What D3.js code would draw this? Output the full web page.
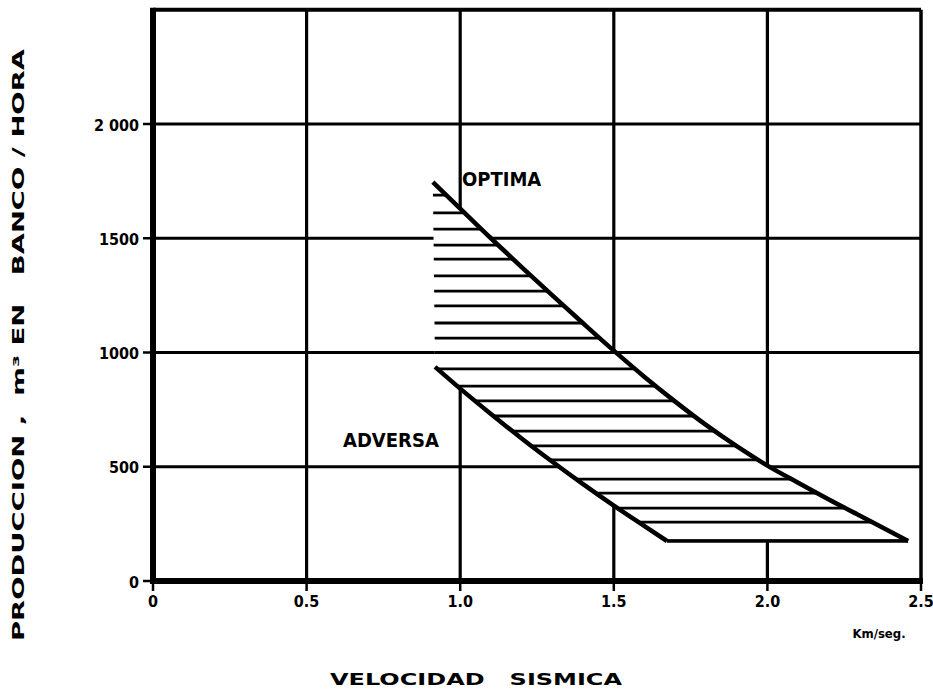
<!DOCTYPE html>
<html>
<head>
<meta charset="utf-8">
<script src="https://cdn.jsdelivr.net/npm/d3@7"></script>
<style>
  html, body { margin: 0; padding: 0; background: #fff; }
  svg { display: block; }
  .tick-label { font-family: "Liberation Sans Narrow", "DejaVu Sans Condensed", "Arial Narrow", sans-serif; font-weight: bold; font-stretch: condensed; }
  .title { font-family: "DejaVu Sans", "Verdana", sans-serif; font-weight: bold; white-space: pre; }
</style>
</head>
<body>
<svg id="chart" width="933" height="692"></svg>
<script>
// Axis ticks (km/s and m3/hour)
const xTicks = [0, 0.5, 1.0, 1.5, 2.0, 2.5];
const xTickLabels = ["0", "0.5", "1.0", "1.5", "2.0", "2.5"];
const yTicks = [0, 500, 1000, 1500, 2000];
const yTickLabels = ["0", "500", "1000", "1500", "2 000"];

// Upper (optimum) production limit vs seismic velocity
const upperVel  = [0.911, 1.0, 1.1, 1.2, 1.3, 1.4, 1.5, 1.6, 1.7, 1.8, 1.9, 2.0, 2.1, 2.2, 2.3, 2.458];
const upperProd = [1746, 1630, 1500, 1374, 1250, 1128, 1008, 893, 785, 683, 590, 505, 430, 357, 287, 175];

// Lower (adverse) production limit vs seismic velocity
const lowerVel  = [0.918, 1.0, 1.1, 1.2, 1.3, 1.4, 1.5, 1.6, 1.673];
const lowerProd = [937, 842, 731, 624, 522, 424, 330, 240, 175];

// Horizontal hatching levels inside the band
const hatchProd = [1689, 1611, 1540, 1470, 1409, 1335, 1269, 1204, 1129, 1063, 1000,
                   928, 853, 788, 722, 656, 591, 530, 446, 385, 319, 258, 175];

const svg = d3.select("#chart");
const x = d3.scaleLinear().domain([0, 2.5]).range([153, 921]);
const y = d3.scaleLinear().domain([0, 2500]).range([581, 9.75]);

const upper = upperVel.map((v, i) => [v, upperProd[i]]);
const lower = lowerVel.map((v, i) => [v, lowerProd[i]]);

const line = d3.line().x(d => x(d[0])).y(d => y(d[1])).curve(d3.curveMonotoneX);

// Grid
const grid = svg.append("g").attr("stroke", "#000").attr("stroke-width", 3.2).attr("fill", "none");
xTicks.slice(1, -1).forEach(v => {
  grid.append("line").attr("x1", x(v)).attr("x2", x(v)).attr("y1", y(2500)).attr("y2", y(0));
});
yTicks.slice(1).forEach(v => {
  grid.append("line").attr("x1", x(0)).attr("x2", x(2.5)).attr("y1", y(v)).attr("y2", y(v));
});

// Band outline: upper curve down, bottom edge back, lower curve up, then straight up the left side
const upperPath = line(upper);
const lowerRevPath = d3.line().x(d => x(d[0])).y(d => y(d[1])).curve(d3.curveMonotoneX)(lower.slice().reverse());
const bandD = upperPath + "L" + lowerRevPath.slice(1) + "Z";

svg.append("defs").append("clipPath").attr("id", "band-clip")
  .append("path").attr("d", bandD);

svg.append("path").attr("d", bandD).attr("fill", "#fff").attr("stroke", "none");

// Hatching
svg.append("g").attr("clip-path", "url(#band-clip)")
  .selectAll("line").data(hatchProd).join("line")
  .attr("x1", x(0.8)).attr("x2", x(2.6))
  .attr("y1", d => y(d)).attr("y2", d => y(d))
  .attr("stroke", "#000").attr("stroke-width", 2.8);

// Band boundaries
svg.append("path").attr("d", line(upper)).attr("fill", "none").attr("stroke", "#000").attr("stroke-width", 4.5);
svg.append("path").attr("d", line(lower)).attr("fill", "none").attr("stroke", "#000").attr("stroke-width", 4.5);
svg.append("line")
  .attr("x1", x(lowerVel[lowerVel.length - 1])).attr("x2", x(upperVel[upperVel.length - 1]))
  .attr("y1", y(175)).attr("y2", y(175))
  .attr("stroke", "#000").attr("stroke-width", 3.5);

// Frame
const frame = svg.append("g").attr("stroke", "#000").attr("fill", "none");
frame.append("line").attr("x1", x(0)).attr("x2", x(2.5)).attr("y1", y(2500)).attr("y2", y(2500)).attr("stroke-width", 4);
frame.append("line").attr("x1", x(2.5)).attr("x2", x(2.5)).attr("y1", y(2500)).attr("y2", y(0)).attr("stroke-width", 3.5);
frame.append("line").attr("x1", x(0)).attr("x2", x(0)).attr("y1", y(2500) - 2).attr("y2", y(0) + 3).attr("stroke-width", 6);
frame.append("line").attr("x1", x(0) - 3).attr("x2", x(2.5) + 2).attr("y1", y(0)).attr("y2", y(0)).attr("stroke-width", 6);

// Ticks
xTicks.forEach(v => {
  frame.append("line").attr("x1", x(v)).attr("x2", x(v)).attr("y1", y(0)).attr("y2", y(0) + 10).attr("stroke-width", 2.5);
});
yTicks.forEach(v => {
  frame.append("line").attr("x1", x(0) - 10).attr("x2", x(0)).attr("y1", y(v)).attr("y2", y(v)).attr("stroke-width", 2.5);
});

// Tick labels
svg.append("g").selectAll("text").data(xTicks).join("text")
  .attr("class", "tick-label")
  .attr("x", d => x(d)).attr("y", 601)
  .attr("text-anchor", "middle").attr("dominant-baseline", "central")
  .attr("font-size", 16)
  .text((d, i) => xTickLabels[i]);

svg.append("g").selectAll("text").data(yTicks).join("text")
  .attr("class", "tick-label")
  .attr("x", 139).attr("y", d => y(d) + 1)
  .attr("text-anchor", "end").attr("dominant-baseline", "central")
  .attr("font-size", 16)
  .text((d, i) => yTickLabels[i]);

svg.append("text").attr("class", "tick-label")
  .attr("x", 879).attr("y", 633)
  .attr("text-anchor", "middle").attr("dominant-baseline", "central")
  .attr("font-size", 13)
  .text("Km/seg.");

// Region labels
svg.append("text").attr("class", "tick-label")
  .attr("x", 462).attr("y", 179)
  .attr("dominant-baseline", "central")
  .attr("font-size", 20)
  .text("OPTIMA");
svg.append("text").attr("class", "tick-label")
  .attr("x", 343).attr("y", 440)
  .attr("dominant-baseline", "central")
  .attr("font-size", 20)
  .text("ADVERSA");

// Axis titles
svg.append("text").attr("class", "title")
  .attr("x", 476).attr("y", 680)
  .attr("text-anchor", "middle").attr("dominant-baseline", "central")
  .attr("font-size", 15)
  .attr("textLength", 292).attr("lengthAdjust", "spacingAndGlyphs")
  .text("VELOCIDAD   SISMICA");

svg.append("text").attr("class", "title")
  .attr("transform", "translate(19,345) rotate(-90)")
  .attr("text-anchor", "middle").attr("dominant-baseline", "central")
  .attr("font-size", 15)
  .attr("textLength", 592).attr("lengthAdjust", "spacingAndGlyphs")
  .text("PRODUCCION ,  m³ EN   BANCO / HORA");
</script>
</body>
</html>
